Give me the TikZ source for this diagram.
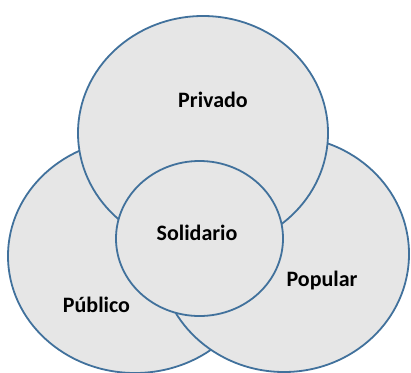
\documentclass[tikz,border=0pt]{standalone}
\usepackage{fontspec}
\setmainfont{Carlito}
\usetikzlibrary{shapes.geometric}
\definecolor{ringblue}{HTML}{41719C}
\definecolor{ringgray}{HTML}{E6E6E6}
\tikzset{ring/.style={ellipse,draw=ringblue,fill=ringgray,line width=1.8pt,inner sep=0pt},
  tag/.style={anchor=base,font=\bfseries\fontsize{22}{26}\selectfont}}

\begin{document}
\begin{tikzpicture}[x=1pt,y=-1pt]
\useasboundingbox (0,0) rectangle (411,372);
\node (publico) [ring,minimum width=254pt,minimum height=234pt] at (135,256) {};
\node (popular) [ring,minimum width=250pt,minimum height=236pt] at (284,254) {};
\node (privado) [ring,minimum width=250pt,minimum height=234pt] at (203,133) {};
\node (solidario) [ring,minimum width=167pt,minimum height=155pt] at (199.5,238.5) {};
\node (tprivado) [tag] at (213,107.5) {Privado};
\node (tsolidario) [tag] at (197,240.7) {Solidario};
\node (tpublico) [tag] at (96.5,312) {Público};
\node (tpopular) [tag] at (322,286) {Popular};
\end{tikzpicture}
\end{document}
